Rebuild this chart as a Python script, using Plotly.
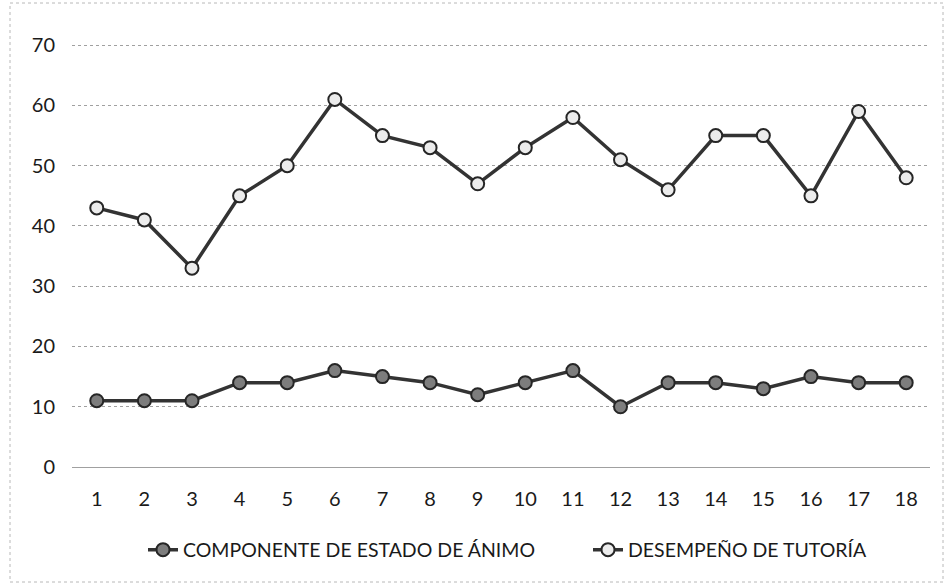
import plotly.graph_objects as go

categories = [str(i) for i in range(1, 19)]
animo = [11, 11, 11, 14, 14, 16, 15, 14, 12, 14, 16, 10, 14, 14, 13, 15, 14, 14]
tutoria = [43, 41, 33, 45, 50, 61, 55, 53, 47, 53, 58, 51, 46, 55, 55, 45, 59, 48]
y_ticks = [0, 10, 20, 30, 40, 50, 60, 70]

W, H = 946, 585
L, R, T, B = 72, 16, 44, 118
pw, ph = W - L - R, H - T - B
leg_y = -(550 - (H - B)) / ph

fig = go.Figure()
fig.add_trace(go.Scatter(
    x=categories, y=animo, mode="lines+markers",
    name="COMPONENTE DE ESTADO DE ÁNIMO", legend="legend",
    line=dict(color="#333333", width=3.5),
    marker=dict(size=13, color="#7d7d7d", line=dict(color="#262626", width=2)),
))
fig.add_trace(go.Scatter(
    x=categories, y=tutoria, mode="lines+markers",
    name="DESEMPEÑO DE TUTORÍA", legend="legend2",
    line=dict(color="#333333", width=3.5),
    marker=dict(size=13, color="#ececec", line=dict(color="#262626", width=2)),
))

fig.update_layout(
    width=W, height=H,
    margin=dict(l=L, r=R, t=T, b=B),
    paper_bgcolor="white", plot_bgcolor="white",
    font=dict(family="Lato, 'Open Sans', sans-serif", size=20, color="#1a1a1a"),
    showlegend=True,
    legend=dict(orientation="h", x=(143 - L) / pw, xanchor="left",
                y=leg_y, yanchor="middle", font=dict(size=19.5)),
    legend2=dict(orientation="h", x=(588 - L) / pw, xanchor="left",
                 y=leg_y, yanchor="middle", font=dict(size=19.5)),
    xaxis=dict(type="category", showgrid=False, showline=False, ticks="",
               range=[-0.52, 17.5], tickfont=dict(size=20),
               ticklabelstandoff=18),
    yaxis=dict(range=[0, 70.2], tickvals=y_ticks, showgrid=True,
               gridcolor="#a0a0a0", griddash="dot", gridwidth=1,
               zeroline=True, zerolinecolor="#a0a0a0", zerolinewidth=1,
               showline=False, ticks="", ticklabelstandoff=16,
               tickfont=dict(size=20)),
    shapes=[dict(type="rect", xref="paper", yref="paper",
                 x0=(10 - L) / pw, x1=(943 - L) / pw,
                 y0=-(582 - (H - B)) / ph, y1=1 + (T - 3) / ph,
                 line=dict(color="#b8b8b8", width=1, dash="dot"))],
)

fig.write_html("out.html", post_script="document.body.style.margin='0';",
               config={"displayModeBar": False})
